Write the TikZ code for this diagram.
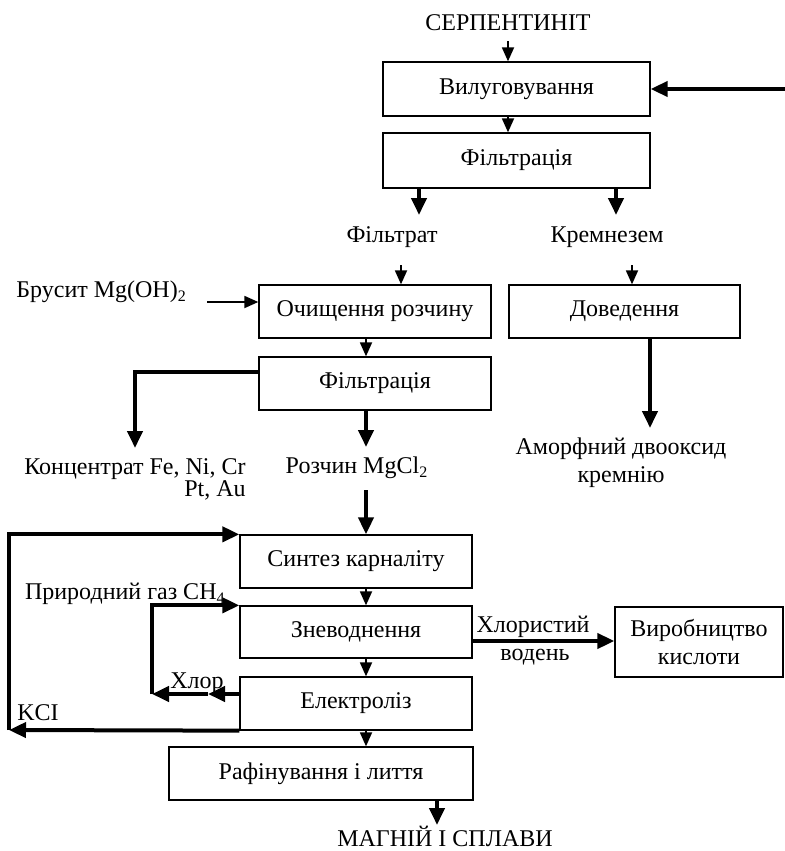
\documentclass[tikz,border=0pt]{standalone}
\usepackage{fontspec}
\setmainfont{Liberation Serif}
\usetikzlibrary{arrows.meta}

\tikzset{
  stage/.style={draw, line width=0.65pt, inner sep=0pt, minimum width=116pt, minimum height=26.5pt, font=\fontsize{12}{13.8}\selectfont},
  txt/.style={inner sep=0pt, font=\fontsize{12}{13.8}\selectfont},
  thin arrow/.style={line width=0.9pt, -{Triangle[length=7pt,width=6pt]}},
  thick arrow/.style={line width=2pt, -{Triangle[length=8.5pt,width=7.5pt]}},
}

\begin{document}
\begin{tikzpicture}[x=0.5pt, y=-0.5pt]

\useasboundingbox (0,0) rectangle (785,851);

\node [txt] (serp) at (508,23) {СЕРПЕНТИНІТ};
\node [stage, minimum width=133.5pt, minimum height=27pt] (vyl) at (516.5,89) {Вилуговування};
\node [stage, minimum width=133.5pt, minimum height=27.5pt] (filt) at (516.5,160.5) {Фільтрація};

\node [txt] (filtrat) at (392,237) {Фільтрат};
\node [txt] (kremn) at (607,237) {Кремнезем};

\node [stage] (ochysh) at (375,311.5) {Очищення розчину};
\node [stage, minimum width=115.5pt] (doved) at (624.5,311.5) {Доведення};
\node [stage] (filt2) at (375,383.5) {Фільтрація};
\node [txt, anchor=west] (brusyt) at (16,292) {Брусит Mg(OH)\textsubscript{2}};

\node [txt, align=right] (konc) at (135,479) {Концентрат Fe, Ni, Cr\\[-2.8pt]Pt, Au\hspace{1.1em}};
\node [txt] (mgcl) at (357,468) {Розчин MgCl\textsubscript{2}};
\node [txt, align=center] (amorf) at (621,463) {Аморфний двооксид\\кремнію};

\node [stage] (synt) at (356,561.5) {Синтез карналіту};
\node [stage, minimum height=26pt] (znev) at (356,632) {Зневоднення};
\node [stage] (elek) at (356,703.5) {Електроліз};
\node [stage, minimum width=152pt] (rafin) at (321,773.5) {Рафінування і лиття};
\node [txt] (magn) at (445,836) {МАГНІЙ І СПЛАВИ};

\node [stage, minimum width=84pt, minimum height=35pt, align=center] (vyrob) at (699,642) {Виробництво\\кислоти};
\node [txt] (hlorvod) at (533,627) {Хлористий};
\node [txt] (voden) at (535,657) {водень};

\node [txt, anchor=east] (gaz) at (226,594) {Природний газ CH\textsubscript{4}};
\node [txt] (hlor) at (197,683) {Хлор};
\node [txt, anchor=west] (kcl) at (17,713) {KCI};

% free ends
\coordinate (vhid) at (785,89);
\coordinate (a1) at (419,215);
\coordinate (a2) at (616,215);
\coordinate (b1) at (401,265);
\coordinate (b2) at (632,265);
\coordinate (c1) at (207,302);
\coordinate (d1) at (135,448);
\coordinate (e1) at (366,447);
\coordinate (f1) at (366,490);
\coordinate (g1) at (650,428);
\coordinate (hmid) at (208,694);
\coordinate (hl) at (152,694);
\coordinate (kl) at (9,730);
\coordinate (m1) at (437,825);

\draw [thin arrow] ([yshift=-5pt]serp.south) -- (serp.south |- vyl.north);
\draw [thick arrow] (vhid) -- (vyl.east);
\draw [thin arrow] ([xshift=-4.25pt]vyl.south) -- ([xshift=-4.25pt]filt.north);
\draw [thick arrow] (filt.south -| a1) -- (a1);
\draw [thick arrow] (filt.south -| a2) -- (a2);

\draw [thin arrow] (b1) -- (b1 |- ochysh.north);
\draw [thin arrow] (b2) -- (b2 |- doved.north);
\draw [thin arrow] (c1) -- (c1 -| ochysh.west);
\draw [thin arrow] ([xshift=-4.5pt]ochysh.south) -- ([xshift=-4.5pt]filt2.north);
\draw [thick arrow] ([yshift=5.75pt]filt2.west) -| (d1);
\draw [thick arrow] (filt2.south -| e1) -- (e1);
\draw [thick arrow] (doved.south -| g1) -- (g1);

\draw [thick arrow] (f1) -- (f1 |- synt.north);
\draw [thin arrow] ([xshift=5pt]synt.south) -- ([xshift=5pt]znev.north);
\draw [thin arrow] ([xshift=5pt]znev.south) -- ([xshift=5pt]elek.north);
\draw [thin arrow] ([xshift=5pt]elek.south) -- ([xshift=5pt]elek.south |- rafin.north);
\draw [thick arrow] (rafin.south -| m1) -- (m1);

\draw [thick arrow] (znev.east |- 0,641) -- (vyrob.west |- 0,641);

% recycle loops
\draw [thick arrow] ([yshift=4.75pt]elek.west) -- (hmid);
\draw [thick arrow] (hmid) -- (hl);
\draw [thick arrow] (hl) |- (znev.north west);
\draw [thick arrow] (elek.south west) -- (kl);
\draw [thick arrow] (kl) |- (synt.north west);

\end{tikzpicture}
\end{document}
